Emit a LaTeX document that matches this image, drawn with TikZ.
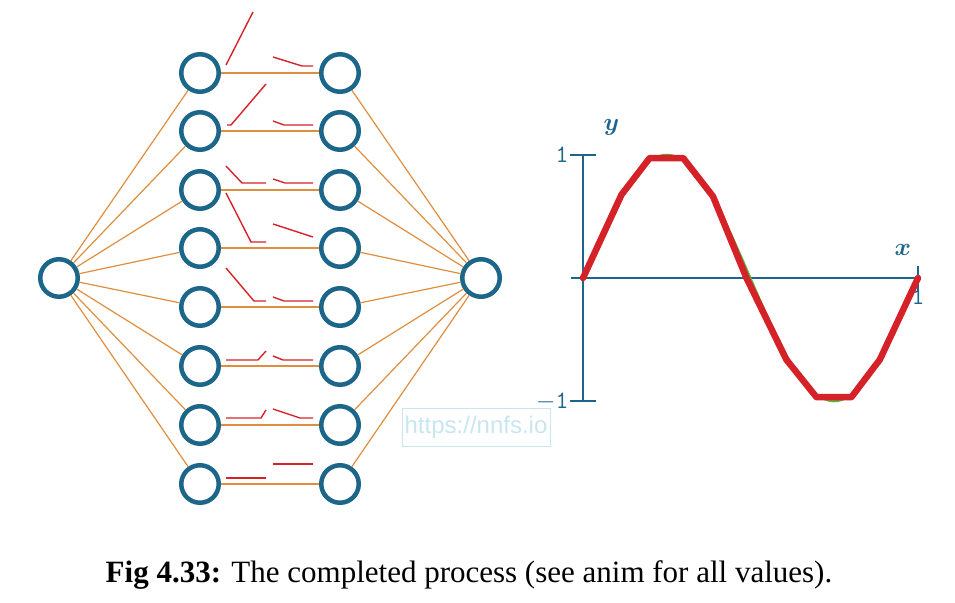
\documentclass[tikz,border=0pt]{standalone}
\usepackage{amsmath}
\usepackage{fontspec}
\setmainfont{Liberation Serif}
\newfontfamily\urlfont{Liberation Sans}

\definecolor{nnblue}{RGB}{28,102,138}
\definecolor{wirecol}{RGB}{222,142,62}
\definecolor{relucol}{RGB}{212,34,40}
\definecolor{markcol}{RGB}{200,230,240}
\definecolor{sinecol}{RGB}{90,180,60}

\begin{document}
\begin{tikzpicture}[x=1pt,y=-1pt,
  neuron/.style={circle, draw=nnblue, line width=4.5pt, fill=white, minimum size=37.5pt, inner sep=0pt},
  wire/.style={draw=wirecol, line width=1.2pt},
  relupart/.style={draw=relucol, line width=1.4pt},
  axis/.style={draw=nnblue, line width=2pt},
  ticklabel/.style={text=nnblue, font=\ttfamily\fontsize{25}{25}\selectfont, inner sep=1pt}]

\useasboundingbox (0,0) rectangle (955,602);

% the network
\node[neuron] (in) at (59,278) {};
\node[neuron] (out) at (481,278) {};
\foreach \i/\y in {1/73,2/131,3/190,4/248,5/307,6/366,7/425,8/484}{
    \node[neuron] (a\i) at (200,\y) {};
    \node[neuron] (b\i) at (340,\y) {};
    \draw[wire] (in) -- (a\i);
    \draw[wire] (a\i) -- (b\i);
    \draw[wire] (b\i) -- (out);
}

% the relu pieces of each pair
\draw[relupart] (226,65) -- (253,12);
\draw[relupart] (273,57) -- (302,66) -- (313,66);
\draw[relupart] (227,125) -- (231,125) -- (266,84);
\draw[relupart] (273,121) -- (284,125) -- (313,125);
\draw[relupart] (226,166) -- (242,183) -- (266,183);
\draw[relupart] (273,179) -- (285,183) -- (313,183);
\draw[relupart] (226,193) -- (251,242) -- (266,242);
\draw[relupart] (273,224) -- (313,237);
\draw[relupart] (226,268) -- (254,301) -- (266,301);
\draw[relupart] (273,297) -- (284,301) -- (313,301);
\draw[relupart] (226,360) -- (258,360) -- (266,351);
\draw[relupart] (273,356) -- (283,360) -- (313,360);
\draw[relupart] (226,418) -- (261,418) -- (266,410);
\draw[relupart] (273,409) -- (300,418) -- (313,418);
\draw[relupart] (226,478) -- (266,478);
\draw[relupart] (273,464) -- (313,464);

% watermark
\node[draw=markcol, line width=1pt, text=markcol, font=\urlfont\fontsize{24}{24}\selectfont,
      minimum width=148pt, minimum height=38pt, inner sep=0pt] (url) at (476,427) {https://nnfs.io};

% the plot
\begin{scope}[shift={(583,278)}, x=335pt, y=123.3pt]
 \draw[axis] (-0.035,0) -- (1,0);
 \draw[axis] (0,1) -- (0,-1);
 \draw[axis] (-0.04,1) -- (0.04,1);
 \draw[axis] (-0.04,-1) -- (0.04,-1);
 \draw[axis] (1,0.1) -- (1,-0.1);
 \node[ticklabel, anchor=east] (ytop) at (-0.04,1) {1};
 \node[ticklabel, anchor=east] (ybot) at (-0.04,-1) {$-$1};
 \node[ticklabel, anchor=north] (xone) at (1,-0.08) {1};
 \node[text=nnblue, font=\fontsize{29}{29}\selectfont] (xlab) at (0.955,0.23) {$\boldsymbol{x}$};
 \node[text=nnblue, font=\fontsize{29}{29}\selectfont] (ylab) at (0.085,1.22) {$\boldsymbol{y}$};
 \draw[sinecol, line width=2pt, domain=0:1, samples=80] plot (\x, {sin(2*pi*\x r)});
 \draw[relucol, line width=6.5pt, line join=round, line cap=round]
   plot coordinates {(0,0) (0.115,0.676) (0.199,0.973) (0.299,0.973) (0.388,0.662) (0.488,0)
                     (0.607,-0.662) (0.697,-0.967) (0.801,-0.967) (0.886,-0.662) (1,0)};
\end{scope}

% caption
\node[anchor=base, font=\fontsize{31}{34}\selectfont] (caption) at (469,582)
  {\textbf{Fig 4.33:} The completed process (see anim for all values).};

\end{tikzpicture}
\end{document}
